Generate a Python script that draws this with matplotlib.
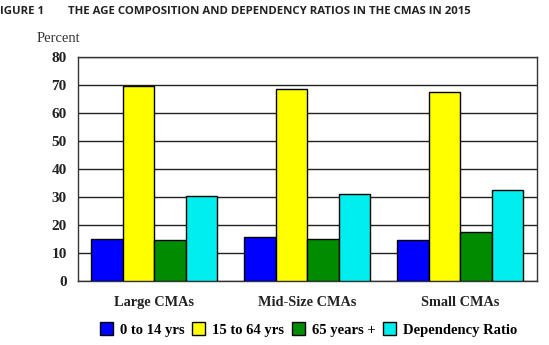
import numpy as np
import matplotlib.pyplot as plt
from matplotlib.patches import Patch

categories = ["Large CMAs", "Mid-Size CMAs", "Small CMAs"]
series = ["0 to 14 yrs", "15 to 64 yrs", "65 years +", "Dependency Ratio"]
young = [15.1, 15.5, 14.7]
working = [69.6, 68.6, 67.4]
old = [14.5, 15.1, 17.3]
dependency = [30.3, 31.0, 32.3]
colors = ["#0000ff", "#ffff00", "#008c00", "#00eeee"]

serif = "Liberation Serif"

fig = plt.figure(figsize=(5.49, 3.45), dpi=100)
ax = fig.add_axes([0.142, 0.186, 0.836, 0.649])

x = np.arange(len(categories))
w = 0.206
for i, vals in enumerate([young, working, old, dependency]):
    ax.bar(x + (i - 1.5) * w, vals, w, color=colors[i], edgecolor="black",
           linewidth=1.0, zorder=3, label=series[i])

ax.set_xlim(-0.5, 2.5)
ax.set_ylim(0, 80)
ax.set_yticks(range(0, 81, 10))
ax.yaxis.grid(True, color="#222222", linewidth=1.0, zorder=0)
ax.set_xticks(x)
ax.set_xticklabels(categories, fontfamily=serif, fontweight="bold", fontsize=10.3, color="#222222")
for lab in ax.get_yticklabels():
    lab.set_fontfamily(serif)
    lab.set_fontweight("bold")
    lab.set_fontsize(11)
    lab.set_color("#222222")
ax.tick_params(length=0, pad=8)
ax.tick_params(axis="x", pad=11)
for s in ax.spines.values():
    s.set_color("#333333")
    s.set_linewidth(1.0)

fig.text(0.067, 0.877, "Percent", fontfamily=serif, fontsize=10.5, color="#333333")
# the figure number is clipped at the left edge in the source image
fig.text(0.0, 0.958, "IGURE 1", fontfamily="Open Sans", fontweight="bold", fontsize=8.2, color="#222222")
fig.text(0.124, 0.958, "THE AGE COMPOSITION AND DEPENDENCY RATIOS IN THE CMAS IN 2015",
         fontfamily="Open Sans", fontweight="bold", fontsize=8.2, color="#222222")

handles = [Patch(facecolor=c, edgecolor="black", label=s) for c, s in zip(colors, series)]
fig.legend(handles=handles, loc="center", bbox_to_anchor=(0.562, 0.045), ncol=4, frameon=False,
           prop={"family": serif, "weight": "bold", "size": 10.5}, handlelength=0.9, handleheight=0.9,
           handletextpad=0.5, columnspacing=0.5)

fig.savefig("out.png", dpi=100)
